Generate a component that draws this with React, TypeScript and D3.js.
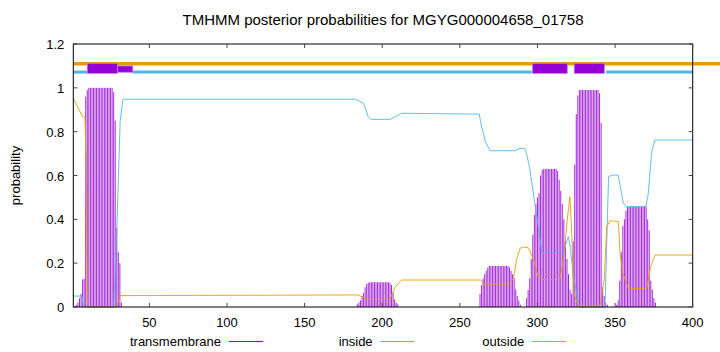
import React from "react";
import * as d3 from "d3";

const title = "TMHMM posterior probabilities for MGYG000004658_01758";
const xTicks = [50, 100, 150, 200, 250, 300, 350, 400];
const yTicks = [0, 0.2, 0.4, 0.6, 0.8, 1, 1.2];
const legendLabels = ["transmembrane", "inside", "outside"];

// transmembrane posterior: runs of [first residue, values per residue]
const tmRunStarts = [3, 184, 263, 293, 351];
const tmRun1 = [0.01, 0.02, 0.04, 0.06, 0.125, 0.13, 0.96, 0.99, 1, 1, 1, 1, 1, 1, 1, 1, 1, 1, 1, 1, 1, 1, 1, 1, 0.98, 0.85, 0.36, 0.25, 0.2, 0.02];
const tmRun2 = [0.012, 0.02, 0.03, 0.05, 0.065, 0.09, 0.105, 0.11, 0.113, 0.113, 0.113, 0.113, 0.113, 0.113, 0.113, 0.113, 0.113, 0.113, 0.113, 0.113, 0.113, 0.11, 0.1, 0.065, 0.035, 0.02, 0.012];
const tmRun3 = [0.06, 0.1, 0.13, 0.15, 0.165, 0.18, 0.187, 0.187, 0.187, 0.187, 0.187, 0.187, 0.187, 0.187, 0.187, 0.187, 0.187, 0.187, 0.187, 0.18, 0.165, 0.15, 0.13, 0.08, 0.05, 0.03, 0.01];
const tmRun4 = [0.04, 0.078, 0.13, 0.22, 0.33, 0.42, 0.47, 0.5, 0.52, 0.6, 0.625, 0.63, 0.63, 0.63, 0.63, 0.63, 0.63, 0.63, 0.63, 0.63, 0.62, 0.58, 0.53, 0.47, 0.4, 0.3, 0.22, 0.15, 0.08, 0.06, 0.3, 0.65, 0.88, 0.965, 0.99, 0.99, 0.99, 0.99, 0.99, 0.99, 0.99, 0.99, 0.99, 0.99, 0.99, 0.99, 0.99, 0.975, 0.84, 0.09, 0.05, 0.02, 0.01];
const tmRun5 = [0.01, 0.03, 0.12, 0.25, 0.37, 0.4, 0.44, 0.458, 0.458, 0.458, 0.458, 0.458, 0.458, 0.458, 0.458, 0.458, 0.458, 0.458, 0.458, 0.458, 0.4, 0.35, 0.12, 0.08, 0.04, 0.02];
const tmRuns = [tmRun1, tmRun2, tmRun3, tmRun4, tmRun5];

const insideX = [1, 6.5, 7.5, 27, 29, 31.2, 33, 183, 185, 188, 191, 193, 205, 209, 212.5, 262.5, 264, 266.5, 269.4, 285.5, 288.7, 291.9, 293, 295, 303, 316.4, 319.9, 321, 323, 325.3, 327, 343.5, 345.8, 348.5, 352, 355.3, 357.5, 369.9, 371.4, 373.6, 375.7, 400];
const insideY = [0.05, 0.05, 0, 0, 0.35, 0.85, 0.948, 0.948, 0.94, 0.929, 0.868, 0.856, 0.856, 0.87, 0.884, 0.88, 0.823, 0.754, 0.713, 0.713, 0.724, 0.724, 0.7, 0.633, 0.245, 0.245, 0.321, 0.28, 0.15, 0.062, 0, 0, 0.595, 0.602, 0.602, 0.473, 0.458, 0.458, 0.519, 0.709, 0.762, 0.762];

const outsideX = [1, 7, 8.5, 9.2, 10, 10.7, 29, 31.1, 184.4, 190, 205, 208.2, 212.5, 263.4, 266, 281.2, 284.5, 286.7, 288.8, 290.9, 294.2, 297.5, 300.5, 303.8, 314.5, 317.1, 319.2, 320.9, 322, 323.5, 326.3, 340.2, 343, 344.6, 346.7, 352.1, 353.2, 355, 358.5, 370.4, 372.9, 375.7, 400];
const outsideY = [0.952, 0.868, 0.868, 0.674, 0.03, 0, 0, 0.052, 0.055, 0.035, 0.035, 0.09, 0.123, 0.123, 0.105, 0.105, 0.13, 0.22, 0.268, 0.274, 0.27, 0.214, 0.138, 0.126, 0.126, 0.234, 0.4, 0.503, 0.351, 0.062, 0.005, 0.005, 0.123, 0.366, 0.394, 0.39, 0.245, 0.154, 0.085, 0.085, 0.184, 0.237, 0.237];

// predicted topology (top strip)
const topoInside = [[1, 10], [39.3, 296.3], [344.2, 400]];
const topoOutside = [[1, 420]];
const topoHelix = [[10, 29.4], [296.8, 319.2], [323.7, 343.1]];
const topoHelixTail = [[29.4, 39.3]];

const W = 720, H = 352;
const PURPLE = "#9400d3";
const BLUE = "#56b4e9";
const ORANGE = "#e69f00";
const FONT = "'Liberation Sans', Arial, sans-serif";

export default function App() {
  const x = d3.scaleLinear().domain([1, 400]).range([73.3, 692.7]);
  const y = d3.scaleLinear().domain([0, 1.2]).range([307, 44]);

  const tmPoints: [number, number][] = [];
  tmRuns.forEach((run, i) => run.forEach((v, j) => tmPoints.push([tmRunStarts[i] + j, v])));

  const line = d3.line<[number, number]>().x((d) => x(d[0])).y((d) => y(d[1]));
  const insidePath = line(insideX.map((v, i) => [v, insideY[i]]))!;
  const outsidePath = line(outsideX.map((v, i) => [v, outsideY[i]]))!;

  const [x0, x1] = x.range();
  const [y0, y1] = y.range();
  const tickLen = 4;

  return (
    <svg width={W} height={H} style={{ position: "fixed", left: 0, top: 0, background: "#fff" }} fontFamily={FONT}>
      <rect x={0} y={0} width={W} height={H} fill="#fff" />
      <text x={(x0 + x1) / 2} y={25} textAnchor="middle" fontSize={15}>{title}</text>

      {/* impulses */}
      <g>
        {tmPoints.map(([r, v], i) => (
          <line key={i} x1={x(r)} x2={x(r)} y1={y(0)} y2={y(v)} stroke={PURPLE} strokeWidth={0.85} />
        ))}
      </g>
      <path d={insidePath} fill="none" stroke={BLUE} strokeWidth={0.9} />
      <path d={outsidePath} fill="none" stroke={ORANGE} strokeWidth={0.9} />

      {/* topology strip */}
      {topoOutside.map((s, i) => (
        <line key={"o" + i} x1={x(s[0])} x2={x(s[1])} y1={y(1.11)} y2={y(1.11)} stroke={ORANGE} strokeWidth={3.5} />
      ))}
      {topoInside.map((s, i) => (
        <line key={"i" + i} x1={x(s[0])} x2={x(s[1])} y1={y(1.072)} y2={y(1.072)} stroke={BLUE} strokeWidth={3} />
      ))}
      {topoHelixTail.map((s, i) => (
        <rect key={"t" + i} x={x(s[0])} y={y(1.1)} width={x(s[1]) - x(s[0])} height={y(1.071) - y(1.1)} fill={PURPLE} stroke="#c27fe8" strokeWidth={0.8} />
      ))}
      {topoHelix.map((s, i) => (
        <rect key={"h" + i} x={x(s[0])} y={y(1.112)} width={x(s[1]) - x(s[0])} height={y(1.066) - y(1.112)} fill={PURPLE} stroke="#c27fe8" strokeWidth={0.8} />
      ))}

      {/* frame */}
      <rect x={x0} y={y1} width={x1 - x0} height={y0 - y1} fill="none" stroke="#000" strokeWidth={1} />
      {yTicks.map((t) => (
        <g key={"y" + t}>
          <line x1={x0} x2={x0 + tickLen} y1={y(t)} y2={y(t)} stroke="#444" />
          <line x1={x1} x2={x1 - tickLen} y1={y(t)} y2={y(t)} stroke="#444" />
          <text x={x0 - 9} y={y(t) + 5} textAnchor="end" fontSize={13}>{String(t)}</text>
        </g>
      ))}
      {xTicks.map((t) => (
        <g key={"x" + t}>
          <line x1={x(t)} x2={x(t)} y1={y0} y2={y0 - tickLen} stroke="#444" />
          <line x1={x(t)} x2={x(t)} y1={y1} y2={y1 + tickLen} stroke="#444" />
          <text x={x(t)} y={y0 + 20} textAnchor="middle" fontSize={13}>{String(t)}</text>
        </g>
      ))}
      <text transform={`translate(20,${(y0 + y1) / 2}) rotate(-90)`} textAnchor="middle" fontSize={13}>probability</text>

      {/* legend */}
      {legendLabels.map((lab, i) => {
        const tx = 221 + i * 151.6;
        const col = [PURPLE, BLUE, ORANGE][i];
        return (
          <g key={lab}>
            <text x={tx} y={346} textAnchor="end" fontSize={13}>{lab}</text>
            <line x1={tx + 8} x2={tx + 42} y1={341.5} y2={341.5} stroke={col} strokeWidth={1} />
          </g>
        );
      })}
    </svg>
  );
}
